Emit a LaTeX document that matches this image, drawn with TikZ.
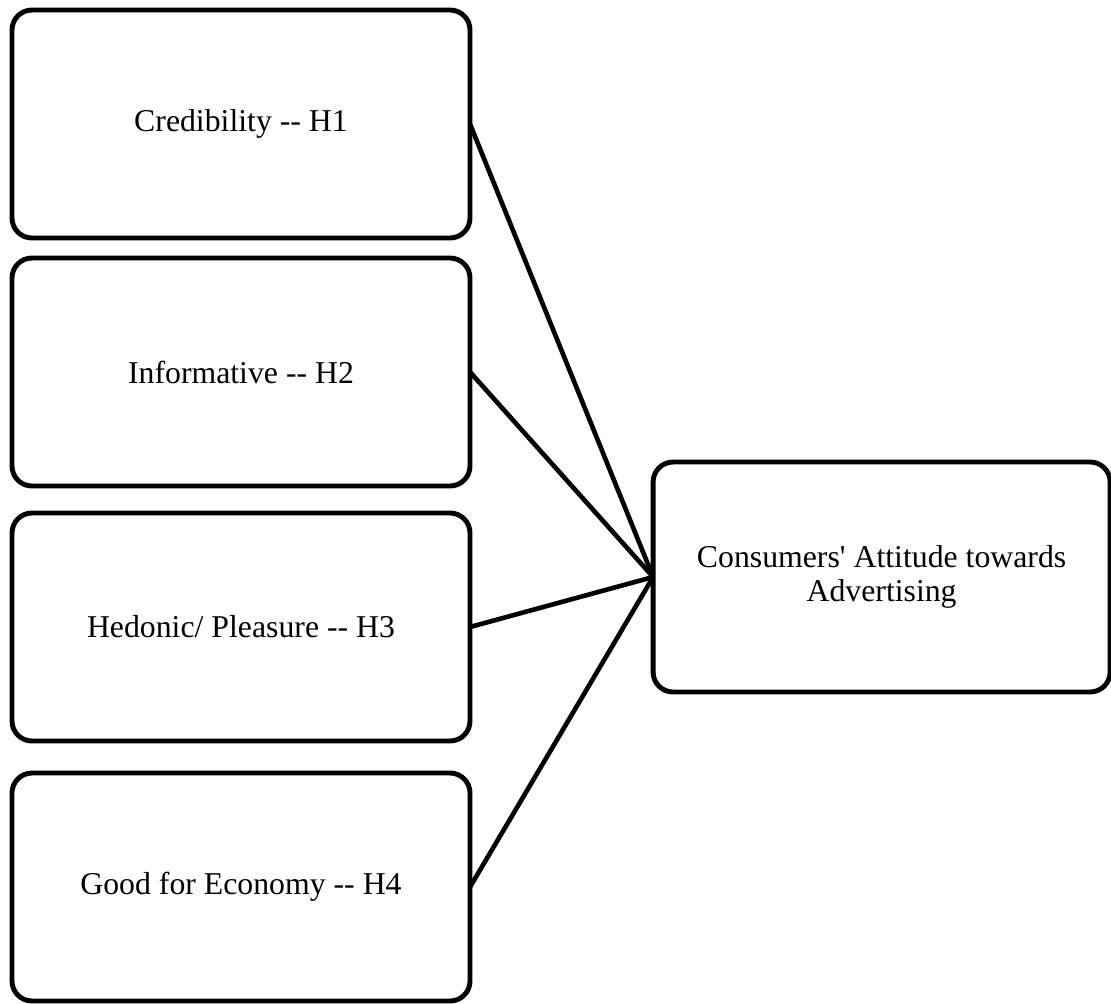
\documentclass[tikz,border=0pt]{standalone}
\usepackage{fontspec}
\usepackage{tikz}
\usepackage{xcolor}
\newfontfamily\boxfont{Liberation Serif}
\usetikzlibrary{positioning, calc}

\begin{document}
\begin{tikzpicture}[
    every node/.style={font=\boxfont\fontsize{22.6}{24.2}\selectfont},
    factor/.style={
        rectangle,
        draw,
        line width=3.5pt,
        rounded corners=0.5cm,
        outer sep=0pt,
        minimum width=11.45cm,
        minimum height=5.7cm,
        align=center
    },
    outcome/.style={
        factor,
        minimum width=11.425cm,
        minimum height=5.75cm
    },
    link/.style={
        line width=3.3pt
    }
]

\useasboundingbox (0,0) rectangle (27.775,-25.075);

% Blocs
\node[factor, anchor=north west] at (0.3,-0.25) (cred) {Credibility -{}- H1};

\node[factor, below=0.5cm of cred] (info) {Informative -{}- H2};

\node[factor, below=0.675cm of info] (hedo) {Hedonic/ Pleasure -{}- H3};

\node[factor, below=0.8cm of hedo] (econ) {Good for Economy -{}- H4};

\node[outcome] at (22.04,-14.425) (attitude) {Consumers' Attitude towards\\Advertising};


% Facteurs -> Attitude
\draw[link]
    (cred.east) -- (attitude.west);

\draw[link]
    (info.east) -- (attitude.west);

\draw[link]
    (hedo.east) -- (attitude.west);

\draw[link]
    (econ.east) -- (attitude.west);

\end{tikzpicture}
\end{document}
